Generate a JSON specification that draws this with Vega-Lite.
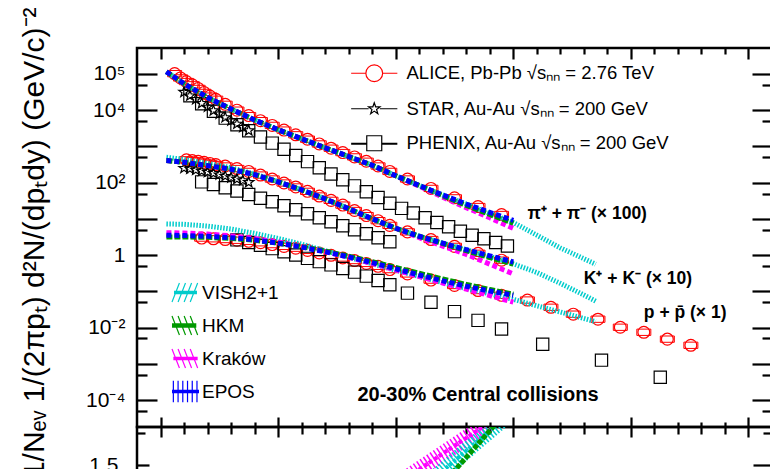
{
  "$schema": "https://vega.github.io/schema/vega-lite/v6.json",
  "padding": {"left": 17, "top": 5, "right": 0, "bottom": 0},
  "spacing": 0,
  "bounds": "flush",
  "resolve": {"scale": {"color": "independent", "shape": "independent", "stroke": "independent"}, "legend": {"color": "independent", "shape": "independent", "stroke": "independent"}},
  "config": {
    "background": "white",
    "font": "Liberation Sans",
    "view": {"stroke": "#000", "strokeWidth": 2.5},
    "axis": {"domain": false, "grid": false, "tickColor": "#000", "tickWidth": 2.2, "labelColor": "#000", "titleColor": "#000", "labelFont": "Liberation Sans", "titleFont": "Liberation Sans", "labelFontSize": 21, "titleFontWeight": "normal", "labelFlush": false, "labelOverlap": false},
    "legend": {"labelFont": "Liberation Sans", "labelColor": "#000"}
  },
  "datasets": {
    "models": [
      {"m":"VISH2+1","sp":"pi","pT":0.05,"y":115000},{"m":"VISH2+1","sp":"pi","pT":0.2,"y":53700},{"m":"VISH2+1","sp":"pi","pT":0.4,"y":22400},{"m":"VISH2+1","sp":"pi","pT":0.6,"y":10700},{"m":"VISH2+1","sp":"pi","pT":0.8,"y":5370},{"m":"VISH2+1","sp":"pi","pT":1.0,"y":2880},{"m":"VISH2+1","sp":"pi","pT":1.2,"y":1620},{"m":"VISH2+1","sp":"pi","pT":1.4,"y":912},{"m":"VISH2+1","sp":"pi","pT":1.6,"y":525},{"m":"VISH2+1","sp":"pi","pT":1.8,"y":302},{"m":"VISH2+1","sp":"pi","pT":2.0,"y":155},{"m":"VISH2+1","sp":"pi","pT":2.2,"y":83.2},{"m":"VISH2+1","sp":"pi","pT":2.4,"y":45.7},{"m":"VISH2+1","sp":"pi","pT":2.6,"y":25.7},{"m":"VISH2+1","sp":"pi","pT":2.8,"y":14.1},{"m":"VISH2+1","sp":"pi","pT":3.0,"y":7.94},{"m":"VISH2+1","sp":"pi","pT":3.2,"y":3.55},{"m":"VISH2+1","sp":"pi","pT":3.4,"y":1.58},{"m":"VISH2+1","sp":"pi","pT":3.6,"y":0.794},{"m":"VISH2+1","sp":"pi","pT":3.7,"y":0.562},
      {"m":"VISH2+1","sp":"K","pT":0.05,"y":501},{"m":"VISH2+1","sp":"K","pT":0.2,"y":437},{"m":"VISH2+1","sp":"K","pT":0.4,"y":339},{"m":"VISH2+1","sp":"K","pT":0.6,"y":257},{"m":"VISH2+1","sp":"K","pT":0.8,"y":174},{"m":"VISH2+1","sp":"K","pT":1.0,"y":107},{"m":"VISH2+1","sp":"K","pT":1.2,"y":63.1},{"m":"VISH2+1","sp":"K","pT":1.4,"y":35.5},{"m":"VISH2+1","sp":"K","pT":1.6,"y":19.1},{"m":"VISH2+1","sp":"K","pT":1.8,"y":10.0},{"m":"VISH2+1","sp":"K","pT":2.0,"y":5.5},{"m":"VISH2+1","sp":"K","pT":2.2,"y":3.31},{"m":"VISH2+1","sp":"K","pT":2.4,"y":2.14},{"m":"VISH2+1","sp":"K","pT":2.6,"y":1.41},{"m":"VISH2+1","sp":"K","pT":2.8,"y":0.912},{"m":"VISH2+1","sp":"K","pT":3.0,"y":0.575},{"m":"VISH2+1","sp":"K","pT":3.2,"y":0.331},{"m":"VISH2+1","sp":"K","pT":3.4,"y":0.166},{"m":"VISH2+1","sp":"K","pT":3.6,"y":0.0794},{"m":"VISH2+1","sp":"K","pT":3.7,"y":0.0537},
      {"m":"VISH2+1","sp":"p","pT":0.05,"y":7.24},{"m":"VISH2+1","sp":"p","pT":0.2,"y":7.08},{"m":"VISH2+1","sp":"p","pT":0.4,"y":6.31},{"m":"VISH2+1","sp":"p","pT":0.6,"y":5.25},{"m":"VISH2+1","sp":"p","pT":0.8,"y":3.98},{"m":"VISH2+1","sp":"p","pT":1.0,"y":2.88},{"m":"VISH2+1","sp":"p","pT":1.2,"y":2.0},{"m":"VISH2+1","sp":"p","pT":1.4,"y":1.32},{"m":"VISH2+1","sp":"p","pT":1.6,"y":0.871},{"m":"VISH2+1","sp":"p","pT":1.8,"y":0.575},{"m":"VISH2+1","sp":"p","pT":2.0,"y":0.38},{"m":"VISH2+1","sp":"p","pT":2.2,"y":0.257},{"m":"VISH2+1","sp":"p","pT":2.4,"y":0.174},{"m":"VISH2+1","sp":"p","pT":2.6,"y":0.12},{"m":"VISH2+1","sp":"p","pT":2.8,"y":0.0851},{"m":"VISH2+1","sp":"p","pT":3.0,"y":0.0603},{"m":"VISH2+1","sp":"p","pT":3.2,"y":0.0398},{"m":"VISH2+1","sp":"p","pT":3.4,"y":0.0269},{"m":"VISH2+1","sp":"p","pT":3.6,"y":0.0178},{"m":"VISH2+1","sp":"p","pT":3.7,"y":0.0145},
      {"m":"Kraków","sp":"pi","pT":0.05,"y":115000},{"m":"Kraków","sp":"pi","pT":0.2,"y":53700},{"m":"Kraków","sp":"pi","pT":0.4,"y":22400},{"m":"Kraków","sp":"pi","pT":0.6,"y":10700},{"m":"Kraków","sp":"pi","pT":0.8,"y":5370},{"m":"Kraków","sp":"pi","pT":1.0,"y":2880},{"m":"Kraków","sp":"pi","pT":1.2,"y":1620},{"m":"Kraków","sp":"pi","pT":1.4,"y":912},{"m":"Kraków","sp":"pi","pT":1.6,"y":525},{"m":"Kraków","sp":"pi","pT":1.8,"y":302},{"m":"Kraków","sp":"pi","pT":2.0,"y":155},{"m":"Kraków","sp":"pi","pT":2.2,"y":79.4},{"m":"Kraków","sp":"pi","pT":2.4,"y":39.8},{"m":"Kraków","sp":"pi","pT":2.6,"y":20.4},{"m":"Kraków","sp":"pi","pT":2.8,"y":10.7},{"m":"Kraków","sp":"pi","pT":3.0,"y":5.5},
      {"m":"Kraków","sp":"K","pT":0.05,"y":407},{"m":"Kraków","sp":"K","pT":0.2,"y":363},{"m":"Kraków","sp":"K","pT":0.4,"y":295},{"m":"Kraków","sp":"K","pT":0.6,"y":234},{"m":"Kraków","sp":"K","pT":0.8,"y":166},{"m":"Kraków","sp":"K","pT":1.0,"y":105},{"m":"Kraków","sp":"K","pT":1.2,"y":63.1},{"m":"Kraków","sp":"K","pT":1.4,"y":35.5},{"m":"Kraków","sp":"K","pT":1.6,"y":19.1},{"m":"Kraków","sp":"K","pT":1.8,"y":10.0},{"m":"Kraków","sp":"K","pT":2.0,"y":5.5},{"m":"Kraków","sp":"K","pT":2.2,"y":3.02},{"m":"Kraków","sp":"K","pT":2.4,"y":1.78},{"m":"Kraków","sp":"K","pT":2.6,"y":1.05},{"m":"Kraków","sp":"K","pT":2.8,"y":0.562},{"m":"Kraków","sp":"K","pT":3.0,"y":0.302},
      {"m":"Kraków","sp":"p","pT":0.05,"y":4.17},{"m":"Kraków","sp":"p","pT":0.2,"y":4.07},{"m":"Kraków","sp":"p","pT":0.4,"y":3.8},{"m":"Kraków","sp":"p","pT":0.6,"y":3.39},{"m":"Kraków","sp":"p","pT":0.8,"y":2.88},{"m":"Kraków","sp":"p","pT":1.0,"y":2.29},{"m":"Kraków","sp":"p","pT":1.2,"y":1.74},{"m":"Kraków","sp":"p","pT":1.4,"y":1.26},{"m":"Kraków","sp":"p","pT":1.6,"y":0.871},{"m":"Kraków","sp":"p","pT":1.8,"y":0.589},{"m":"Kraków","sp":"p","pT":2.0,"y":0.389},{"m":"Kraków","sp":"p","pT":2.2,"y":0.257},{"m":"Kraków","sp":"p","pT":2.4,"y":0.17},{"m":"Kraków","sp":"p","pT":2.6,"y":0.115},{"m":"Kraków","sp":"p","pT":2.8,"y":0.0759},{"m":"Kraków","sp":"p","pT":3.0,"y":0.0501},
      {"m":"HKM","sp":"pi","pT":0.05,"y":115000},{"m":"HKM","sp":"pi","pT":0.2,"y":53700},{"m":"HKM","sp":"pi","pT":0.4,"y":22400},{"m":"HKM","sp":"pi","pT":0.6,"y":10700},{"m":"HKM","sp":"pi","pT":0.8,"y":5370},{"m":"HKM","sp":"pi","pT":1.0,"y":2880},{"m":"HKM","sp":"pi","pT":1.2,"y":1620},{"m":"HKM","sp":"pi","pT":1.4,"y":912},{"m":"HKM","sp":"pi","pT":1.6,"y":525},{"m":"HKM","sp":"pi","pT":1.8,"y":302},{"m":"HKM","sp":"pi","pT":2.0,"y":155},{"m":"HKM","sp":"pi","pT":2.2,"y":83.2},{"m":"HKM","sp":"pi","pT":2.4,"y":43.7},{"m":"HKM","sp":"pi","pT":2.6,"y":23.4},{"m":"HKM","sp":"pi","pT":2.8,"y":13.2},{"m":"HKM","sp":"pi","pT":3.0,"y":7.59},
      {"m":"HKM","sp":"K","pT":0.05,"y":407},{"m":"HKM","sp":"K","pT":0.2,"y":363},{"m":"HKM","sp":"K","pT":0.4,"y":295},{"m":"HKM","sp":"K","pT":0.6,"y":234},{"m":"HKM","sp":"K","pT":0.8,"y":166},{"m":"HKM","sp":"K","pT":1.0,"y":105},{"m":"HKM","sp":"K","pT":1.2,"y":63.1},{"m":"HKM","sp":"K","pT":1.4,"y":35.5},{"m":"HKM","sp":"K","pT":1.6,"y":19.1},{"m":"HKM","sp":"K","pT":1.8,"y":10.0},{"m":"HKM","sp":"K","pT":2.0,"y":5.5},{"m":"HKM","sp":"K","pT":2.2,"y":3.31},{"m":"HKM","sp":"K","pT":2.4,"y":2.09},{"m":"HKM","sp":"K","pT":2.6,"y":1.32},{"m":"HKM","sp":"K","pT":2.8,"y":0.851},{"m":"HKM","sp":"K","pT":3.0,"y":0.562},
      {"m":"HKM","sp":"p","pT":0.05,"y":3.16},{"m":"HKM","sp":"p","pT":0.2,"y":3.16},{"m":"HKM","sp":"p","pT":0.4,"y":3.09},{"m":"HKM","sp":"p","pT":0.6,"y":2.88},{"m":"HKM","sp":"p","pT":0.8,"y":2.57},{"m":"HKM","sp":"p","pT":1.0,"y":2.14},{"m":"HKM","sp":"p","pT":1.2,"y":1.7},{"m":"HKM","sp":"p","pT":1.4,"y":1.29},{"m":"HKM","sp":"p","pT":1.6,"y":0.933},{"m":"HKM","sp":"p","pT":1.8,"y":0.661},{"m":"HKM","sp":"p","pT":2.0,"y":0.457},{"m":"HKM","sp":"p","pT":2.2,"y":0.316},{"m":"HKM","sp":"p","pT":2.4,"y":0.219},{"m":"HKM","sp":"p","pT":2.6,"y":0.155},{"m":"HKM","sp":"p","pT":2.8,"y":0.112},{"m":"HKM","sp":"p","pT":3.0,"y":0.0832},
      {"m":"EPOS","sp":"pi","pT":0.05,"y":115000},{"m":"EPOS","sp":"pi","pT":0.2,"y":53700},{"m":"EPOS","sp":"pi","pT":0.4,"y":22400},{"m":"EPOS","sp":"pi","pT":0.6,"y":10700},{"m":"EPOS","sp":"pi","pT":0.8,"y":5370},{"m":"EPOS","sp":"pi","pT":1.0,"y":2880},{"m":"EPOS","sp":"pi","pT":1.2,"y":1620},{"m":"EPOS","sp":"pi","pT":1.4,"y":912},{"m":"EPOS","sp":"pi","pT":1.6,"y":525},{"m":"EPOS","sp":"pi","pT":1.8,"y":302},{"m":"EPOS","sp":"pi","pT":2.0,"y":155},{"m":"EPOS","sp":"pi","pT":2.2,"y":83.2},{"m":"EPOS","sp":"pi","pT":2.4,"y":45.7},{"m":"EPOS","sp":"pi","pT":2.6,"y":25.7},{"m":"EPOS","sp":"pi","pT":2.8,"y":15.1},{"m":"EPOS","sp":"pi","pT":3.0,"y":9.12},
      {"m":"EPOS","sp":"K","pT":0.05,"y":407},{"m":"EPOS","sp":"K","pT":0.2,"y":363},{"m":"EPOS","sp":"K","pT":0.4,"y":295},{"m":"EPOS","sp":"K","pT":0.6,"y":234},{"m":"EPOS","sp":"K","pT":0.8,"y":166},{"m":"EPOS","sp":"K","pT":1.0,"y":105},{"m":"EPOS","sp":"K","pT":1.2,"y":63.1},{"m":"EPOS","sp":"K","pT":1.4,"y":35.5},{"m":"EPOS","sp":"K","pT":1.6,"y":19.1},{"m":"EPOS","sp":"K","pT":1.8,"y":10.0},{"m":"EPOS","sp":"K","pT":2.0,"y":5.5},{"m":"EPOS","sp":"K","pT":2.2,"y":3.31},{"m":"EPOS","sp":"K","pT":2.4,"y":2.14},{"m":"EPOS","sp":"K","pT":2.6,"y":1.41},{"m":"EPOS","sp":"K","pT":2.8,"y":0.955},{"m":"EPOS","sp":"K","pT":3.0,"y":0.646},
      {"m":"EPOS","sp":"p","pT":0.05,"y":3.55},{"m":"EPOS","sp":"p","pT":0.2,"y":3.47},{"m":"EPOS","sp":"p","pT":0.4,"y":3.31},{"m":"EPOS","sp":"p","pT":0.6,"y":3.02},{"m":"EPOS","sp":"p","pT":0.8,"y":2.63},{"m":"EPOS","sp":"p","pT":1.0,"y":2.14},{"m":"EPOS","sp":"p","pT":1.2,"y":1.66},{"m":"EPOS","sp":"p","pT":1.4,"y":1.23},{"m":"EPOS","sp":"p","pT":1.6,"y":0.891},{"m":"EPOS","sp":"p","pT":1.8,"y":0.617},{"m":"EPOS","sp":"p","pT":2.0,"y":0.417},{"m":"EPOS","sp":"p","pT":2.2,"y":0.282},{"m":"EPOS","sp":"p","pT":2.4,"y":0.195},{"m":"EPOS","sp":"p","pT":2.6,"y":0.138},{"m":"EPOS","sp":"p","pT":2.8,"y":0.102},{"m":"EPOS","sp":"p","pT":3.0,"y":0.0776}
    ],
    "exp": [
      {"e":"ALICE","sp":"pi","pT":0.12,"y":102000},{"e":"ALICE","sp":"pi","pT":0.17,"y":77600},{"e":"ALICE","sp":"pi","pT":0.22,"y":61700},{"e":"ALICE","sp":"pi","pT":0.27,"y":50100},{"e":"ALICE","sp":"pi","pT":0.32,"y":39800},{"e":"ALICE","sp":"pi","pT":0.37,"y":30900},{"e":"ALICE","sp":"pi","pT":0.42,"y":24500},{"e":"ALICE","sp":"pi","pT":0.47,"y":20000},{"e":"ALICE","sp":"pi","pT":0.55,"y":14500},{"e":"ALICE","sp":"pi","pT":0.65,"y":10000},{"e":"ALICE","sp":"pi","pT":0.75,"y":7080},{"e":"ALICE","sp":"pi","pT":0.85,"y":5130},{"e":"ALICE","sp":"pi","pT":0.95,"y":3800},{"e":"ALICE","sp":"pi","pT":1.05,"y":2820},{"e":"ALICE","sp":"pi","pT":1.15,"y":2090},{"e":"ALICE","sp":"pi","pT":1.25,"y":1580},{"e":"ALICE","sp":"pi","pT":1.35,"y":1170},{"e":"ALICE","sp":"pi","pT":1.45,"y":891},{"e":"ALICE","sp":"pi","pT":1.55,"y":676},{"e":"ALICE","sp":"pi","pT":1.65,"y":513},{"e":"ALICE","sp":"pi","pT":1.75,"y":389},{"e":"ALICE","sp":"pi","pT":1.85,"y":288},{"e":"ALICE","sp":"pi","pT":1.95,"y":204},{"e":"ALICE","sp":"pi","pT":2.1,"y":126},{"e":"ALICE","sp":"pi","pT":2.3,"y":69.2},{"e":"ALICE","sp":"pi","pT":2.5,"y":38.0},{"e":"ALICE","sp":"pi","pT":2.7,"y":21.9},{"e":"ALICE","sp":"pi","pT":2.9,"y":13.2},
      {"e":"ALICE","sp":"K","pT":0.22,"y":427},{"e":"ALICE","sp":"K","pT":0.27,"y":407},{"e":"ALICE","sp":"K","pT":0.32,"y":389},{"e":"ALICE","sp":"K","pT":0.37,"y":363},{"e":"ALICE","sp":"K","pT":0.42,"y":339},{"e":"ALICE","sp":"K","pT":0.47,"y":316},{"e":"ALICE","sp":"K","pT":0.55,"y":288},{"e":"ALICE","sp":"K","pT":0.65,"y":245},{"e":"ALICE","sp":"K","pT":0.75,"y":204},{"e":"ALICE","sp":"K","pT":0.85,"y":162},{"e":"ALICE","sp":"K","pT":0.95,"y":126},{"e":"ALICE","sp":"K","pT":1.05,"y":97.7},{"e":"ALICE","sp":"K","pT":1.15,"y":75.9},{"e":"ALICE","sp":"K","pT":1.25,"y":57.5},{"e":"ALICE","sp":"K","pT":1.35,"y":42.7},{"e":"ALICE","sp":"K","pT":1.45,"y":32.4},{"e":"ALICE","sp":"K","pT":1.55,"y":24.0},{"e":"ALICE","sp":"K","pT":1.65,"y":17.0},{"e":"ALICE","sp":"K","pT":1.75,"y":12.3},{"e":"ALICE","sp":"K","pT":1.85,"y":8.91},{"e":"ALICE","sp":"K","pT":1.95,"y":6.61},{"e":"ALICE","sp":"K","pT":2.1,"y":4.37},{"e":"ALICE","sp":"K","pT":2.3,"y":2.69},{"e":"ALICE","sp":"K","pT":2.5,"y":1.74},{"e":"ALICE","sp":"K","pT":2.7,"y":1.12},{"e":"ALICE","sp":"K","pT":2.9,"y":0.724},
      {"e":"ALICE","sp":"p","pT":0.35,"y":2.95},{"e":"ALICE","sp":"p","pT":0.45,"y":2.82},{"e":"ALICE","sp":"p","pT":0.55,"y":2.69},{"e":"ALICE","sp":"p","pT":0.65,"y":2.57},{"e":"ALICE","sp":"p","pT":0.75,"y":2.4},{"e":"ALICE","sp":"p","pT":0.85,"y":2.19},{"e":"ALICE","sp":"p","pT":0.95,"y":1.95},{"e":"ALICE","sp":"p","pT":1.05,"y":1.74},{"e":"ALICE","sp":"p","pT":1.15,"y":1.55},{"e":"ALICE","sp":"p","pT":1.25,"y":1.35},{"e":"ALICE","sp":"p","pT":1.35,"y":1.15},{"e":"ALICE","sp":"p","pT":1.45,"y":0.989},{"e":"ALICE","sp":"p","pT":1.55,"y":0.832},{"e":"ALICE","sp":"p","pT":1.65,"y":0.708},{"e":"ALICE","sp":"p","pT":1.75,"y":0.589},{"e":"ALICE","sp":"p","pT":1.85,"y":0.49},{"e":"ALICE","sp":"p","pT":1.95,"y":0.398},{"e":"ALICE","sp":"p","pT":2.1,"y":0.302},{"e":"ALICE","sp":"p","pT":2.3,"y":0.204},{"e":"ALICE","sp":"p","pT":2.5,"y":0.145},{"e":"ALICE","sp":"p","pT":2.7,"y":0.105},{"e":"ALICE","sp":"p","pT":2.9,"y":0.0776},{"e":"ALICE","sp":"p","pT":3.12,"y":0.0575},{"e":"ALICE","sp":"p","pT":3.32,"y":0.0363},{"e":"ALICE","sp":"p","pT":3.51,"y":0.0234},{"e":"ALICE","sp":"p","pT":3.72,"y":0.017},{"e":"ALICE","sp":"p","pT":3.91,"y":0.0102},{"e":"ALICE","sp":"p","pT":4.11,"y":0.00741},{"e":"ALICE","sp":"p","pT":4.31,"y":0.00479},{"e":"ALICE","sp":"p","pT":4.51,"y":0.00324},
      {"e":"STAR","sp":"pi","pT":0.2,"y":31600},{"e":"STAR","sp":"pi","pT":0.25,"y":25100},{"e":"STAR","sp":"pi","pT":0.3,"y":20000},{"e":"STAR","sp":"pi","pT":0.35,"y":15500},{"e":"STAR","sp":"pi","pT":0.4,"y":12300},{"e":"STAR","sp":"pi","pT":0.45,"y":9770},{"e":"STAR","sp":"pi","pT":0.5,"y":7940},{"e":"STAR","sp":"pi","pT":0.55,"y":6310},{"e":"STAR","sp":"pi","pT":0.6,"y":5130},{"e":"STAR","sp":"pi","pT":0.65,"y":4170},{"e":"STAR","sp":"pi","pT":0.7,"y":3390},{"e":"STAR","sp":"pi","pT":0.75,"y":2750},
      {"e":"STAR","sp":"K","pT":0.2,"y":251},{"e":"STAR","sp":"K","pT":0.25,"y":240},{"e":"STAR","sp":"K","pT":0.3,"y":224},{"e":"STAR","sp":"K","pT":0.35,"y":209},{"e":"STAR","sp":"K","pT":0.4,"y":195},{"e":"STAR","sp":"K","pT":0.45,"y":182},{"e":"STAR","sp":"K","pT":0.5,"y":166},{"e":"STAR","sp":"K","pT":0.55,"y":151},{"e":"STAR","sp":"K","pT":0.6,"y":138},{"e":"STAR","sp":"K","pT":0.65,"y":126},{"e":"STAR","sp":"K","pT":0.7,"y":115},{"e":"STAR","sp":"K","pT":0.75,"y":102},
      {"e":"PHENIX","sp":"pi","pT":0.25,"y":25100},{"e":"PHENIX","sp":"pi","pT":0.35,"y":15100},{"e":"PHENIX","sp":"pi","pT":0.45,"y":9330},{"e":"PHENIX","sp":"pi","pT":0.55,"y":6030},{"e":"PHENIX","sp":"pi","pT":0.65,"y":3980},{"e":"PHENIX","sp":"pi","pT":0.75,"y":2690},{"e":"PHENIX","sp":"pi","pT":0.85,"y":1820},{"e":"PHENIX","sp":"pi","pT":0.95,"y":1230},{"e":"PHENIX","sp":"pi","pT":1.05,"y":832},{"e":"PHENIX","sp":"pi","pT":1.15,"y":562},{"e":"PHENIX","sp":"pi","pT":1.25,"y":380},{"e":"PHENIX","sp":"pi","pT":1.35,"y":257},{"e":"PHENIX","sp":"pi","pT":1.45,"y":174},{"e":"PHENIX","sp":"pi","pT":1.55,"y":120},{"e":"PHENIX","sp":"pi","pT":1.65,"y":81.3},{"e":"PHENIX","sp":"pi","pT":1.75,"y":56.2},{"e":"PHENIX","sp":"pi","pT":1.85,"y":38.9},{"e":"PHENIX","sp":"pi","pT":1.95,"y":26.9},{"e":"PHENIX","sp":"pi","pT":2.05,"y":19.5},{"e":"PHENIX","sp":"pi","pT":2.15,"y":14.5},{"e":"PHENIX","sp":"pi","pT":2.25,"y":10.7},{"e":"PHENIX","sp":"pi","pT":2.35,"y":7.94},{"e":"PHENIX","sp":"pi","pT":2.45,"y":6.03},{"e":"PHENIX","sp":"pi","pT":2.55,"y":4.57},{"e":"PHENIX","sp":"pi","pT":2.65,"y":3.55},{"e":"PHENIX","sp":"pi","pT":2.75,"y":2.82},{"e":"PHENIX","sp":"pi","pT":2.85,"y":2.24},{"e":"PHENIX","sp":"pi","pT":2.95,"y":1.78},
      {"e":"PHENIX","sp":"K","pT":0.35,"y":105},{"e":"PHENIX","sp":"K","pT":0.45,"y":89.1},{"e":"PHENIX","sp":"K","pT":0.55,"y":72.4},{"e":"PHENIX","sp":"K","pT":0.65,"y":58.9},{"e":"PHENIX","sp":"K","pT":0.75,"y":46.8},{"e":"PHENIX","sp":"K","pT":0.85,"y":37.2},{"e":"PHENIX","sp":"K","pT":0.95,"y":29.5},{"e":"PHENIX","sp":"K","pT":1.05,"y":22.9},{"e":"PHENIX","sp":"K","pT":1.15,"y":17.8},{"e":"PHENIX","sp":"K","pT":1.25,"y":13.8},{"e":"PHENIX","sp":"K","pT":1.35,"y":10.7},{"e":"PHENIX","sp":"K","pT":1.45,"y":8.32},{"e":"PHENIX","sp":"K","pT":1.55,"y":6.46},{"e":"PHENIX","sp":"K","pT":1.65,"y":5.01},{"e":"PHENIX","sp":"K","pT":1.75,"y":3.89},{"e":"PHENIX","sp":"K","pT":1.85,"y":3.02},{"e":"PHENIX","sp":"K","pT":1.95,"y":2.34},
      {"e":"PHENIX","sp":"p","pT":0.65,"y":2.63},{"e":"PHENIX","sp":"p","pT":0.75,"y":2.24},{"e":"PHENIX","sp":"p","pT":0.85,"y":1.86},{"e":"PHENIX","sp":"p","pT":0.95,"y":1.51},{"e":"PHENIX","sp":"p","pT":1.05,"y":1.23},{"e":"PHENIX","sp":"p","pT":1.15,"y":1.0},{"e":"PHENIX","sp":"p","pT":1.25,"y":0.813},{"e":"PHENIX","sp":"p","pT":1.35,"y":0.661},{"e":"PHENIX","sp":"p","pT":1.45,"y":0.537},{"e":"PHENIX","sp":"p","pT":1.55,"y":0.427},{"e":"PHENIX","sp":"p","pT":1.65,"y":0.339},{"e":"PHENIX","sp":"p","pT":1.75,"y":0.263},{"e":"PHENIX","sp":"p","pT":1.85,"y":0.2},{"e":"PHENIX","sp":"p","pT":1.95,"y":0.151},{"e":"PHENIX","sp":"p","pT":2.1,"y":0.0891},{"e":"PHENIX","sp":"p","pT":2.3,"y":0.0501},{"e":"PHENIX","sp":"p","pT":2.5,"y":0.0275},{"e":"PHENIX","sp":"p","pT":2.7,"y":0.0158},{"e":"PHENIX","sp":"p","pT":2.9,"y":0.00912},{"e":"PHENIX","sp":"p","pT":3.25,"y":0.00347},{"e":"PHENIX","sp":"p","pT":3.75,"y":0.00126},{"e":"PHENIX","sp":"p","pT":4.25,"y":0.000427}
    ],
    "plabels": [
      {"t":"π⁺ + π⁻ (× 100)","pT":3.12,"y":13.6},
      {"t":"K⁺ + K⁻ (× 10)","pT":3.6,"y":0.217},
      {"t":"p + p̄ (× 1)","pT":4.11,"y":0.025}
    ],
    "clabel": [{"t":"20-30% Central collisions","pT":2.7,"y":0.000136}],
    "ratio": [
      {"m":"Kraków","pT":1.9,"r":1.414},{"m":"Kraków","pT":2.8,"r":1.635},
      {"m":"VISH2+1","pT":2.2,"r":1.42},{"m":"VISH2+1","pT":2.9,"r":1.64},
      {"m":"HKM","pT":2.3,"r":1.4},{"m":"HKM","pT":2.9,"r":1.65}
    ]
  },
  "vconcat": [
    {
      "width": 635,
      "height": 379,
      "resolve": {"axis": {"x": "independent", "y": "independent"}},
      "layer": [
        {
          "data": {"name": "exp"},
          "transform": [{"filter": "datum.e == 'STAR'"}],
          "mark": {"type": "point", "filled": false, "size": 196, "opacity": 0, "clip": true},
          "encoding": {
            "x": {"field": "pT", "type": "quantitative", "scale": {"domain": [-0.2, 5.2], "nice": false, "zero": false}, "axis": null},
            "y": {"field": "y", "type": "quantitative", "scale": {"type": "log", "domain": [1.8e-5, 5.2e5], "nice": false}, "axis": null},
            "color": {"field": "e", "type": "nominal", "scale": {"domain": ["ALICE", "STAR", "PHENIX"], "range": ["#ff0000", "#000000", "#000000"]},
              "legend": {"orient": "none", "legendX": 228, "legendY": 16, "title": null, "padding": 0, "labelFontSize": 18.5, "labelOffset": 23, "rowPadding": 14.5, "symbolSize": 196, "symbolStrokeWidth": 1.2, "symbolOpacity": 1, "labelLimit": 400,
                "labelExpr": "datum.label == 'ALICE' ? 'ALICE, Pb-Pb √sₙₙ = 2.76 TeV' : datum.label == 'STAR' ? 'STAR, Au-Au √sₙₙ = 200 GeV' : 'PHENIX, Au-Au √sₙₙ = 200 GeV'"}},
            "shape": {"field": "e", "type": "nominal",
              "scale": {"domain": ["ALICE", "STAR", "PHENIX"], "range": [
                "M-3.3,0H-1.2M1.2,0H3.3M-1.2,0A1.2,1.2,0,1,0,1.2,0A1.2,1.2,0,1,0,-1.2,0",
                "M-3.3,0H-0.8M0.8,0H3.3M0,-0.86L0.2,-0.28L0.82,-0.27L0.33,0.11L0.51,0.7L0,0.34L-0.51,0.7L-0.33,0.11L-0.82,-0.27L-0.2,-0.28Z",
                "M-3.3,0H-1.07M1.07,0H3.3M-3.3,0.14H-1.07M1.07,0.14H3.3M-1.07,-1.07H1.07V1.07H-1.07Z"]},
              "legend": {"orient": "none", "legendX": 228, "legendY": 16, "title": null, "padding": 0, "labelFontSize": 18.5, "labelOffset": 23, "rowPadding": 14.5, "symbolSize": 196, "symbolStrokeWidth": 1.2, "symbolOpacity": 1, "labelLimit": 400,
                "labelExpr": "datum.label == 'ALICE' ? 'ALICE, Pb-Pb √sₙₙ = 2.76 TeV' : datum.label == 'STAR' ? 'STAR, Au-Au √sₙₙ = 200 GeV' : 'PHENIX, Au-Au √sₙₙ = 200 GeV'"}}
          }
        },
        {
          "data": {"name": "exp"},
          "transform": [{"filter": "datum.e == 'ALICE'"}],
          "mark": {"type": "point", "shape": "M-1,-0.45H1V0.45H-1Z", "size": 196, "filled": false, "stroke": "#ff0000", "strokeWidth": 1, "opacity": 1, "clip": true},
          "encoding": {
            "x": {"field": "pT", "type": "quantitative", "scale": {"domain": [-0.2, 5.2], "nice": false, "zero": false}, "axis": null},
            "y": {"field": "y", "type": "quantitative", "scale": {"type": "log", "domain": [1.8e-5, 5.2e5], "nice": false}, "axis": null}
          }
        },
        {
          "data": {"name": "exp"},
          "transform": [{"filter": "datum.e == 'ALICE'"}],
          "mark": {"type": "point", "shape": "circle", "size": 140, "filled": false, "strokeWidth": 1.2, "opacity": 1, "clip": true},
          "encoding": {
            "x": {"field": "pT", "type": "quantitative", "scale": {"domain": [-0.2, 5.2], "nice": false, "zero": false}, "axis": null},
            "y": {"field": "y", "type": "quantitative", "scale": {"type": "log", "domain": [1.8e-5, 5.2e5], "nice": false},
              "axis": {"orient": "left", "values": [100000, 10000, 100, 1, 0.01, 0.0001], "ticks": false, "labelPadding": 12, "labelBaseline": "middle", "labelFontSize": 21,
                "labelExpr": "datum.value >= 50000 ? '10⁵' : datum.value >= 5000 ? '10⁴' : datum.value >= 50 ? '10²' : datum.value >= 0.5 ? '1' : datum.value >= 0.005 ? '10⁻²' : '10⁻⁴'",
                "title": "1/Nₑᵥ   1/(2πpₜ) d²N/(dpₜdy) (GeV/c)⁻²", "titleFontSize": 30, "titleAngle": 270, "titleAlign": "right", "titleBaseline": "alphabetic", "titleX": -94, "titleY": -41}},
            "color": {"field": "e", "type": "nominal"}
          }
        },
        {
          "data": {"name": "exp"},
          "transform": [{"filter": "datum.e == 'STAR'"}],
          "mark": {"type": "point", "shape": "M0,-1L0.235,-0.324L0.951,-0.309L0.38,0.124L0.588,0.809L0,0.4L-0.588,0.809L-0.38,0.124L-0.951,-0.309L-0.235,-0.324Z", "size": 120, "filled": false, "strokeWidth": 1.2, "opacity": 1, "clip": true},
          "encoding": {
            "x": {"field": "pT", "type": "quantitative", "scale": {"domain": [-0.2, 5.2], "nice": false, "zero": false}, "axis": null},
            "y": {"field": "y", "type": "quantitative", "scale": {"type": "log", "domain": [1.8e-5, 5.2e5], "nice": false}, "axis": null},
            "color": {"field": "e", "type": "nominal"}
          }
        },
        {
          "data": {"name": "exp"},
          "transform": [{"filter": "datum.e == 'PHENIX'"}],
          "mark": {"type": "point", "shape": "square", "size": 150, "filled": false, "strokeWidth": 1.2, "opacity": 1, "clip": true},
          "encoding": {
            "x": {"field": "pT", "type": "quantitative", "scale": {"domain": [-0.2, 5.2], "nice": false, "zero": false}, "axis": null},
            "y": {"field": "y", "type": "quantitative", "scale": {"type": "log", "domain": [1.8e-5, 5.2e5], "nice": false}, "axis": null},
            "color": {"field": "e", "type": "nominal"}
          }
        },
        {
          "data": {"name": "models"},
          "transform": [{"filter": "datum.m == 'VISH2+1'"}],
          "mark": {"type": "line", "strokeWidth": 5, "strokeDash": [1.5, 1.5], "clip": true},
          "encoding": {
            "x": {"field": "pT", "type": "quantitative", "scale": {"domain": [-0.2, 5.2], "nice": false, "zero": false},
              "axis": {"orient": "bottom", "values": [0, 1, 2, 3, 4, 5], "tickSize": -10, "labels": false, "title": null}},
            "y": {"field": "y", "type": "quantitative", "scale": {"type": "log", "domain": [1.8e-5, 5.2e5], "nice": false},
              "axis": {"orient": "left", "values": [0.0001, 0.001, 0.01, 0.1, 1, 10, 100, 1000, 10000, 100000], "tickSize": -20, "labels": false, "title": null}},
            "detail": {"field": "sp"},
            "stroke": {"field": "m", "type": "nominal", "scale": {"domain": ["VISH2+1", "HKM", "Kraków", "EPOS"], "range": ["#00cccc", "#009900", "#ff00ff", "#0000ff"]}, "legend": null}
          }
        },
        {
          "data": {"name": "models"},
          "transform": [{"filter": "datum.m == 'Kraków'"}],
          "mark": {"type": "line", "strokeWidth": 5, "strokeDash": [5, 3], "clip": true},
          "encoding": {
            "x": {"field": "pT", "type": "quantitative", "scale": {"domain": [-0.2, 5.2], "nice": false, "zero": false},
              "axis": {"orient": "bottom", "values": [0.2, 0.4, 0.6, 0.8, 1.2, 1.4, 1.6, 1.8, 2.2, 2.4, 2.6, 2.8, 3.2, 3.4, 3.6, 3.8, 4.2, 4.4, 4.6, 4.8], "tickSize": -5, "labels": false, "title": null}},
            "y": {"field": "y", "type": "quantitative", "scale": {"type": "log", "domain": [1.8e-5, 5.2e5], "nice": false},
              "axis": {"orient": "left", "values": [0.00005, 0.0005, 0.005, 0.05, 0.5, 5, 50, 500, 5000, 50000], "tickSize": -10, "labels": false, "title": null}},
            "detail": {"field": "sp"},
            "stroke": {"field": "m", "type": "nominal", "legend": null}
          }
        },
        {
          "data": {"name": "models"},
          "transform": [{"filter": "datum.m == 'HKM'"}],
          "mark": {"type": "line", "strokeWidth": 5, "strokeDash": [6, 2], "clip": true},
          "encoding": {
            "x": {"field": "pT", "type": "quantitative", "scale": {"domain": [-0.2, 5.2], "nice": false, "zero": false},
              "axis": {"orient": "top", "values": [0, 1, 2, 3, 4, 5], "tickSize": -11, "labels": false, "title": null}},
            "y": {"field": "y", "type": "quantitative", "scale": {"type": "log", "domain": [1.8e-5, 5.2e5], "nice": false},
              "axis": {"orient": "right", "values": [0.0001, 0.001, 0.01, 0.1, 1, 10, 100, 1000, 10000, 100000], "tickSize": -20, "labels": false, "title": null}},
            "detail": {"field": "sp"},
            "stroke": {"field": "m", "type": "nominal", "legend": null}
          }
        },
        {
          "data": {"name": "models"},
          "transform": [{"filter": "datum.m == 'EPOS'"}],
          "mark": {"type": "line", "strokeWidth": 5, "strokeDash": [5, 3], "clip": true},
          "encoding": {
            "x": {"field": "pT", "type": "quantitative", "scale": {"domain": [-0.2, 5.2], "nice": false, "zero": false},
              "axis": {"orient": "top", "values": [0.2, 0.4, 0.6, 0.8, 1.2, 1.4, 1.6, 1.8, 2.2, 2.4, 2.6, 2.8, 3.2, 3.4, 3.6, 3.8, 4.2, 4.4, 4.6, 4.8], "tickSize": -6, "labels": false, "title": null}},
            "y": {"field": "y", "type": "quantitative", "scale": {"type": "log", "domain": [1.8e-5, 5.2e5], "nice": false},
              "axis": {"orient": "right", "values": [0.00005, 0.0005, 0.005, 0.05, 0.5, 5, 50, 500, 5000, 50000], "tickSize": -10, "labels": false, "title": null}},
            "detail": {"field": "sp"},
            "stroke": {"field": "m", "type": "nominal", "legend": null}
          }
        },
        {
          "data": {"name": "plabels"},
          "mark": {"type": "text", "align": "left", "baseline": "middle", "fontSize": 17.5, "fontWeight": "bold", "font": "Liberation Sans", "color": "#000"},
          "encoding": {
            "x": {"field": "pT", "type": "quantitative", "scale": {"domain": [-0.2, 5.2], "nice": false, "zero": false}, "axis": null},
            "y": {"field": "y", "type": "quantitative", "scale": {"type": "log", "domain": [1.8e-5, 5.2e5], "nice": false}, "axis": null},
            "text": {"field": "t"}
          }
        },
        {
          "data": {"name": "clabel"},
          "mark": {"type": "text", "align": "center", "baseline": "middle", "fontSize": 20, "fontWeight": "bold", "font": "Liberation Sans", "color": "#000"},
          "encoding": {
            "x": {"field": "pT", "type": "quantitative", "scale": {"domain": [-0.2, 5.2], "nice": false, "zero": false}, "axis": null},
            "y": {"field": "y", "type": "quantitative", "scale": {"type": "log", "domain": [1.8e-5, 5.2e5], "nice": false}, "axis": null},
            "text": {"field": "t"}
          }
        }
      ]
    },
    {
      "width": 635,
      "height": 120,
      "resolve": {"axis": {"x": "independent", "y": "independent"}},
      "layer": [
        {
          "data": {"name": "ratio"},
          "mark": {"type": "point", "filled": false, "size": 729, "opacity": 0, "clip": true},
          "encoding": {
            "x": {"field": "pT", "type": "quantitative", "scale": {"domain": [-0.2, 5.2], "nice": false, "zero": false}, "axis": null},
            "y": {"field": "r", "type": "quantitative", "scale": {"domain": [1.245, 1.62], "nice": false, "zero": false}, "axis": null},
            "stroke": {"field": "m", "type": "nominal", "scale": {"domain": ["VISH2+1", "HKM", "Kraków", "EPOS"], "range": ["#00cccc", "#009900", "#ff00ff", "#0000ff"]},
              "legend": {"orient": "none", "legendX": 34, "legendY": -149, "title": null, "padding": 0, "labelFontSize": 19, "labelOffset": 2, "rowPadding": 6, "symbolSize": 729, "symbolStrokeWidth": 1.2, "symbolOpacity": 1}},
            "shape": {"field": "m", "type": "nominal",
              "scale": {"domain": ["VISH2+1", "HKM", "Kraków", "EPOS"], "range": [
                "M-1,0.7L-0.45,-0.7M-0.55,0.7L0,-0.7M-0.1,0.7L0.45,-0.7M0.35,0.7L0.9,-0.7M-0.85,-0.08H0.85M-0.85,0H0.85M-0.85,0.08H0.85",
                "M-1,-0.7L-0.45,0.7M-0.55,-0.7L0,0.7M-0.1,-0.7L0.45,0.7M0.35,-0.7L0.9,0.7M-1,-0.12H0.8M-1,-0.04H0.8M-1,0.04H0.8M-1,0.12H0.8",
                "M-1,-0.7L-0.45,0.7M-0.55,-0.7L0,0.7M-0.1,-0.7L0.45,0.7M0.35,-0.7L0.9,0.7M-0.9,-0.08H0.9M-0.9,0H0.9M-0.9,0.08H0.9",
                "M-0.9,-0.8V0.8M-0.55,-0.8V0.8M-0.2,-0.8V0.8M0.15,-0.8V0.8M0.5,-0.8V0.8M0.85,-0.8V0.8M-1,-0.08H1M-1,0H1M-1,0.08H1"]},
              "legend": {"orient": "none", "legendX": 34, "legendY": -149, "title": null, "padding": 0, "labelFontSize": 19, "labelOffset": 2, "rowPadding": 6, "symbolSize": 729, "symbolStrokeWidth": 1.2, "symbolOpacity": 1}}
          }
        },
        {
          "data": {"name": "ratio"},
          "transform": [{"filter": "datum.m == 'Kraków'"}],
          "mark": {"type": "line", "stroke": "#ff00ff", "strokeWidth": 16, "strokeDash": [1.5, 2.5], "clip": true},
          "encoding": {
            "x": {"field": "pT", "type": "quantitative", "scale": {"domain": [-0.2, 5.2], "nice": false, "zero": false},
              "axis": {"orient": "top", "values": [0, 1, 2, 3, 4, 5], "tickSize": -10, "labels": false, "title": null}},
            "y": {"field": "r", "type": "quantitative", "scale": {"domain": [1.245, 1.62], "nice": false, "zero": false},
              "axis": {"orient": "left", "values": [1.5], "tickSize": -12, "labelPadding": 31, "labelBaseline": "middle", "labelFontSize": 21, "format": ".1f", "title": null}}
          }
        },
        {
          "data": {"name": "ratio"},
          "transform": [{"filter": "datum.m == 'VISH2+1'"}],
          "mark": {"type": "line", "stroke": "#00cccc", "strokeWidth": 16, "strokeDash": [1.5, 2], "clip": true},
          "encoding": {
            "x": {"field": "pT", "type": "quantitative", "scale": {"domain": [-0.2, 5.2], "nice": false, "zero": false},
              "axis": {"orient": "top", "values": [0.2, 0.4, 0.6, 0.8, 1.2, 1.4, 1.6, 1.8, 2.2, 2.4, 2.6, 2.8, 3.2, 3.4, 3.6, 3.8, 4.2, 4.4, 4.6, 4.8], "tickSize": -7, "labels": false, "title": null}},
            "y": {"field": "r", "type": "quantitative", "scale": {"domain": [1.245, 1.62], "nice": false, "zero": false},
              "axis": {"orient": "left", "values": [1.3, 1.4, 1.6], "tickSize": -8, "labels": false, "title": null}}
          }
        },
        {
          "data": {"name": "ratio"},
          "transform": [{"filter": "datum.m == 'Kraków'"}],
          "mark": {"type": "line", "stroke": "#ff00ff", "strokeWidth": 4, "strokeDash": [4, 2], "clip": true},
          "encoding": {
            "x": {"field": "pT", "type": "quantitative", "scale": {"domain": [-0.2, 5.2], "nice": false, "zero": false}, "axis": null},
            "y": {"field": "r", "type": "quantitative", "scale": {"domain": [1.245, 1.62], "nice": false, "zero": false},
              "axis": {"orient": "right", "values": [1.5], "tickSize": -19, "labels": false, "title": null}}
          }
        },
        {
          "data": {"name": "ratio"},
          "transform": [{"filter": "datum.m == 'VISH2+1'"}],
          "mark": {"type": "line", "stroke": "#00cccc", "strokeWidth": 4, "strokeDash": [3, 2], "clip": true},
          "encoding": {
            "x": {"field": "pT", "type": "quantitative", "scale": {"domain": [-0.2, 5.2], "nice": false, "zero": false}, "axis": null},
            "y": {"field": "r", "type": "quantitative", "scale": {"domain": [1.245, 1.62], "nice": false, "zero": false},
              "axis": {"orient": "right", "values": [1.3, 1.4, 1.6], "tickSize": -9, "labels": false, "title": null}}
          }
        },
        {
          "data": {"name": "ratio"},
          "transform": [{"filter": "datum.m == 'HKM'"}],
          "mark": {"type": "line", "stroke": "#009900", "strokeWidth": 5, "strokeDash": [5, 1.5], "clip": true},
          "encoding": {
            "x": {"field": "pT", "type": "quantitative", "scale": {"domain": [-0.2, 5.2], "nice": false, "zero": false}, "axis": null},
            "y": {"field": "r", "type": "quantitative", "scale": {"domain": [1.245, 1.62], "nice": false, "zero": false}, "axis": null}
          }
        }
      ]
    }
  ]
}
